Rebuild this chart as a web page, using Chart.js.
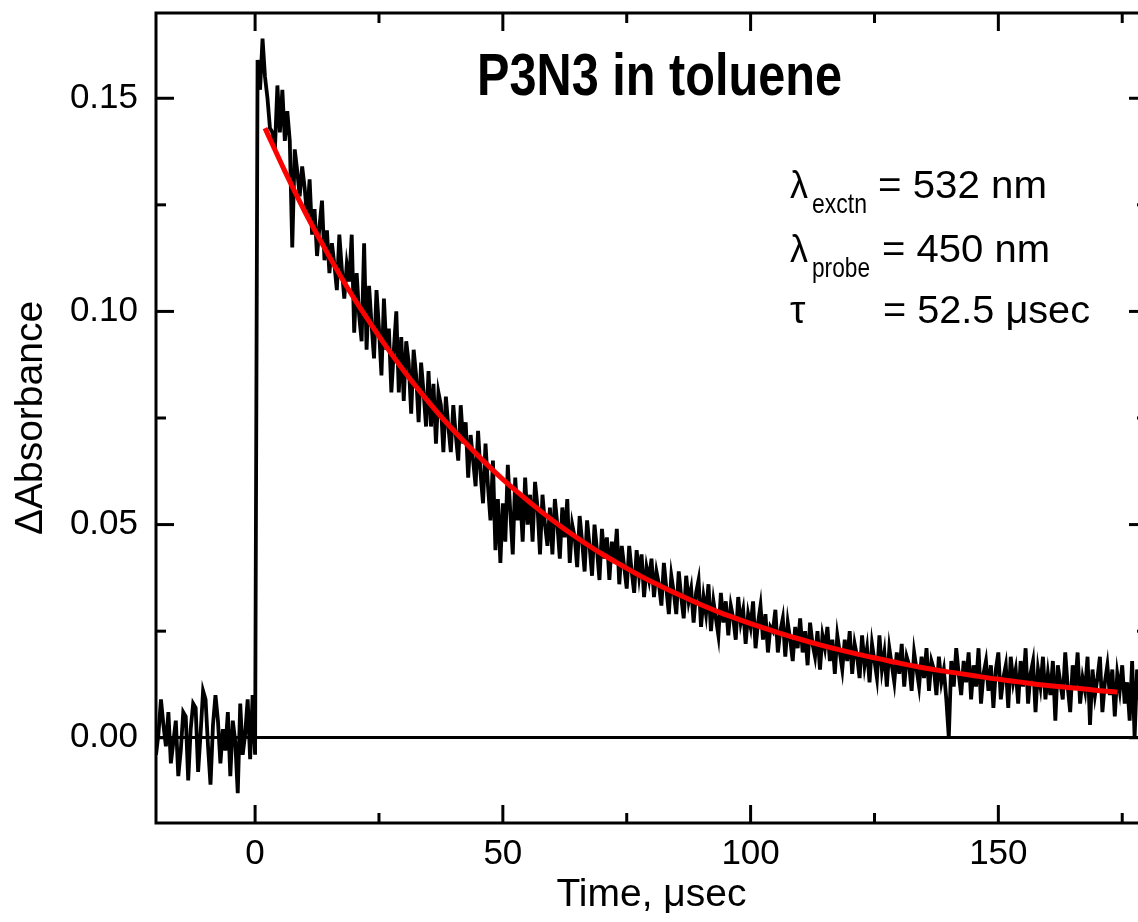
<!DOCTYPE html>
<html>
<head>
<meta charset="utf-8">
<script src="https://cdn.jsdelivr.net/npm/chart.js@4.4.1/dist/chart.umd.min.js"></script>
<style>
html, body { margin: 0; padding: 0; background: #fff; overflow: hidden; }
#wrap { width: 1160px; height: 922px; }
</style>
</head>
<body>
<div id="wrap"><canvas id="DecayChart" width="1160" height="922"></canvas></div>
<script>
// transient absorbance, one sample every 0.5 usec starting at -20 usec
var timeStart = -20;
var timeStep = 0.5;
var absorbance = [
    -0.004, 0.001, 0.009, 0.003, -0.002, 0.006, -0.006, -0.001, 0.004, -0.009,
    -0.003, 0.006, 0.005, -0.010, 0.002, 0.008, 0.007, -0.008, 0.001, 0.011,
    0.009, -0.002, -0.011, 0.003, 0.010, 0.004, -0.006, 0.002, -0.003, 0.006,
    -0.009, 0.004, -0.001, -0.013, 0.008, -0.004, 0.001, 0.009, -0.005, 0.010,
    -0.004, 0.159, 0.152, 0.164, 0.155, 0.150, 0.143, 0.142, 0.138, 0.153,
    0.142, 0.152, 0.140, 0.147, 0.140, 0.115, 0.138, 0.133, 0.127, 0.134,
    0.129, 0.122, 0.131, 0.118, 0.124, 0.113, 0.120, 0.126, 0.112, 0.119,
    0.109, 0.116, 0.111, 0.105, 0.118, 0.110, 0.103, 0.111, 0.107, 0.118,
    0.095, 0.109, 0.099, 0.093, 0.116, 0.091, 0.106, 0.097, 0.089, 0.105,
    0.096, 0.085, 0.103, 0.091, 0.096, 0.081, 0.091, 0.100, 0.081, 0.094,
    0.079, 0.093, 0.088, 0.076, 0.091, 0.085, 0.074, 0.088, 0.081, 0.073,
    0.086, 0.073, 0.083, 0.069, 0.081, 0.078, 0.067, 0.080, 0.073, 0.067,
    0.078, 0.071, 0.065, 0.078, 0.069, 0.074, 0.061, 0.071, 0.065, 0.059,
    0.072, 0.062, 0.055, 0.069, 0.059, 0.051, 0.065, 0.044, 0.056, 0.041,
    0.055, 0.046, 0.064, 0.053, 0.043, 0.061, 0.051, 0.057, 0.046, 0.061,
    0.050, 0.057, 0.046, 0.060, 0.054, 0.043, 0.057, 0.050, 0.045, 0.054,
    0.043, 0.056, 0.050, 0.042, 0.054, 0.047, 0.056, 0.041, 0.050, 0.047,
    0.040, 0.052, 0.046, 0.039, 0.051, 0.045, 0.038, 0.050, 0.044, 0.037,
    0.049, 0.042, 0.047, 0.037, 0.046, 0.041, 0.049, 0.036, 0.045, 0.040,
    0.035, 0.045, 0.039, 0.034, 0.044, 0.038, 0.043, 0.033, 0.040, 0.037,
    0.042, 0.033, 0.039, 0.036, 0.031, 0.041, 0.035, 0.029, 0.038, 0.034,
    0.029, 0.039, 0.033, 0.028, 0.038, 0.032, 0.035, 0.027, 0.034, 0.037,
    0.026, 0.033, 0.029, 0.036, 0.025, 0.032, 0.028, 0.024, 0.034, 0.027,
    0.032, 0.024, 0.031, 0.028, 0.023, 0.033, 0.027, 0.030, 0.022, 0.029,
    0.026, 0.032, 0.021, 0.027, 0.031, 0.023, 0.029, 0.020, 0.026, 0.025,
    0.030, 0.020, 0.025, 0.028, 0.019, 0.027, 0.023, 0.018, 0.026, 0.021,
    0.028, 0.020, 0.025, 0.017, 0.027, 0.022, 0.019, 0.025, 0.016, 0.024,
    0.021, 0.026, 0.018, 0.023, 0.015, 0.024, 0.020, 0.016, 0.023, 0.018,
    0.025, 0.015, 0.022, 0.019, 0.014, 0.024, 0.017, 0.021, 0.013, 0.022,
    0.018, 0.014, 0.024, 0.016, 0.020, 0.012, 0.021, 0.017, 0.013, 0.020,
    0.015, 0.022, 0.012, 0.019, 0.017, 0.011, 0.020, 0.016, 0.012, 0.019,
    0.014, 0.021, 0.011, 0.018, 0.016, 0.010, 0.019, 0.013, 0.016, 0.009,
    0.000, 0.018, 0.012, 0.021, 0.015, 0.010, 0.018, 0.013, 0.020, 0.009,
    0.017, 0.012, 0.021, 0.008, 0.015, 0.018, 0.011, 0.017, 0.007, 0.016,
    0.020, 0.009, 0.014, 0.017, 0.007, 0.019, 0.013, 0.016, 0.008, 0.018,
    0.012, 0.021, 0.008, 0.015, 0.018, 0.006, 0.016, 0.012, 0.019, 0.009,
    0.015, 0.010, 0.018, 0.004, 0.017, 0.013, 0.009, 0.020, 0.012, 0.006,
    0.017, 0.012, 0.020, 0.008, 0.014, 0.011, 0.019, 0.003, 0.016, 0.010,
    0.014, 0.019, 0.006, 0.013, 0.017, 0.010, 0.016, 0.005, 0.015, 0.011,
    0.017, 0.008, 0.013, 0.004, 0.018, 0.000, 0.016, 0.009, 0.019, 0.012,
    0.011
];

// exponential fit (tau = 52.5 usec)
var fitTime = [2, 6, 10, 14, 18, 22, 26, 30, 34, 38, 42, 46, 50, 54, 58, 62, 66, 70, 74, 78, 82, 86,
               90, 94, 98, 102, 106, 110, 114, 118, 122, 126, 130, 134, 138, 142, 146, 150, 154, 158, 162, 166, 170, 174];
var fitValues = [0.1430, 0.1329, 0.1235, 0.1149, 0.1068, 0.0994, 0.0925, 0.0861, 0.0802, 0.0747, 0.0697,
                 0.0650, 0.0606, 0.0566, 0.0528, 0.0493, 0.0461, 0.0431, 0.0404, 0.0378, 0.0355, 0.0333,
                 0.0312, 0.0293, 0.0276, 0.0260, 0.0245, 0.0231, 0.0218, 0.0206, 0.0195, 0.0185, 0.0175,
                 0.0166, 0.0158, 0.0151, 0.0144, 0.0137, 0.0131, 0.0125, 0.0120, 0.0116, 0.0111, 0.0107];

var xTicks = [0, 50, 100, 150];
var xMinor = [25, 75, 125, 175];
var yTicks = [0, 0.05, 0.10, 0.15];
var yMinor = [0.025, 0.075, 0.125];

var traceData = absorbance.map(function (v, i) { return { x: timeStart + i * timeStep, y: v }; });
var fitData = fitValues.map(function (v, i) { return { x: fitTime[i], y: v }; });

Chart.defaults.font.family = 'Arial, "Liberation Sans", sans-serif';
Chart.defaults.color = '#000';

// squeeze text horizontally to a given width
function fitText(ctx, str, x, y, font, width) {
    ctx.font = font;
    var w = ctx.measureText(str).width;
    ctx.save();
    ctx.translate(x, y);
    if (width) ctx.scale(width / w, 1);
    ctx.fillText(str, 0, 0);
    ctx.restore();
}

var frameTicks = {
    id: 'frameTicks',
    afterDatasetsDraw: function (chart) {
        var a = chart.chartArea, ctx = chart.ctx;
        var xs = chart.scales.x, ys = chart.scales.y;
        ctx.save();
        ctx.strokeStyle = '#000';
        ctx.lineWidth = 3;
        ctx.lineCap = 'butt';
        ctx.strokeRect(a.left, a.top, a.right - a.left, a.bottom - a.top);
        function seg(x1, y1, x2, y2) { ctx.beginPath(); ctx.moveTo(x1, y1); ctx.lineTo(x2, y2); ctx.stroke(); }
        function tx(v, len) { var p = xs.getPixelForValue(v); seg(p, a.bottom, p, a.bottom - len); seg(p, a.top, p, a.top + len); }
        function ty(v, len) { var p = ys.getPixelForValue(v); seg(a.left, p, a.left + len, p); seg(a.right, p, a.right - len, p); }
        xTicks.forEach(function (v) { tx(v, 18); });
        xMinor.forEach(function (v) { tx(v, 10); });
        yTicks.forEach(function (v) { ty(v, 18); });
        yMinor.forEach(function (v) { ty(v, 10); });
        ctx.restore();
    },
    afterDraw: function (chart) {
        var ctx = chart.ctx;
        ctx.save();
        ctx.fillStyle = '#000';
        ctx.textBaseline = 'alphabetic';
        ctx.textAlign = 'left';
        fitText(ctx, 'P3N3 in toluene', 477, 95, 'bold 60px Arial, "Liberation Sans"', 365);
        fitText(ctx, 'λ', 790, 198, '39px Arial, "Liberation Sans"', 18);
        fitText(ctx, 'exctn', 812, 213, '28px Arial, "Liberation Sans"', 55);
        fitText(ctx, '= 532 nm', 878, 198, '39px Arial, "Liberation Sans"', 169);
        fitText(ctx, 'λ', 790, 262, '39px Arial, "Liberation Sans"', 18);
        fitText(ctx, 'probe', 812, 277, '28px Arial, "Liberation Sans"', 58);
        fitText(ctx, '= 450 nm', 882, 262, '39px Arial, "Liberation Sans"', 168);
        fitText(ctx, 'τ', 790, 323, '39px Arial, "Liberation Sans"', 0);
        fitText(ctx, '= 52.5 μsec', 883, 323, '39px Arial, "Liberation Sans"', 207);
        ctx.restore();
    }
};

var ctx = document.getElementById('DecayChart');

var chart = new Chart(ctx, {
    type: 'line',
    data: {
        datasets: [
            {
                label: 'fit',
                data: fitData,
                borderColor: '#ff0000',
                borderWidth: 5,
                pointRadius: 0,
                tension: 0.4,
                cubicInterpolationMode: 'monotone',
                fill: false
            },
            {
                label: 'data',
                data: traceData,
                borderColor: '#000',
                borderWidth: 3.8,
                pointRadius: 0,
                tension: 0,
                fill: false
            }
        ]
    },
    options: {
        responsive: false,
        animation: false,
        layout: { padding: { top: 13, right: 13, left: 0, bottom: 0 } },
        plugins: {
            legend: { display: false },
            title: { display: false },
            tooltip: { enabled: false }
        },
        scales: {
            x: {
                type: 'linear',
                min: -20,
                max: 180,
                afterFit: function (s) { s.height = 99; s.paddingLeft = 0; s.paddingRight = 0; },
                afterBuildTicks: function (s) { s.ticks = xTicks.map(function (v) { return { value: v }; }); },
                grid: { display: false, drawTicks: false },
                border: { display: false },
                ticks: { font: { size: 35 }, padding: 10, maxRotation: 0 },
                title: { display: true, text: 'Time, μsec', font: { size: 39 }, padding: { top: 0, bottom: 3 } }
            },
            y: {
                type: 'linear',
                min: -0.02,
                max: 0.17,
                afterFit: function (s) { s.width = 156; s.paddingTop = 0; s.paddingBottom = 0; },
                afterBuildTicks: function (s) { s.ticks = yTicks.map(function (v) { return { value: v }; }); },
                grid: {
                    drawTicks: false,
                    color: function (c) { return c.tick && c.tick.value === 0 ? '#000' : 'rgba(0,0,0,0)'; },
                    lineWidth: 3
                },
                border: { display: false },
                ticks: {
                    font: { size: 35 },
                    padding: 18,
                    callback: function (v) { return v.toFixed(2); }
                },
                title: { display: true, text: 'ΔAbsorbance', font: { size: 39 }, padding: { top: 8, bottom: 0 } }
            }
        }
    },
    plugins: [frameTicks]
});
</script>
</body>
</html>
